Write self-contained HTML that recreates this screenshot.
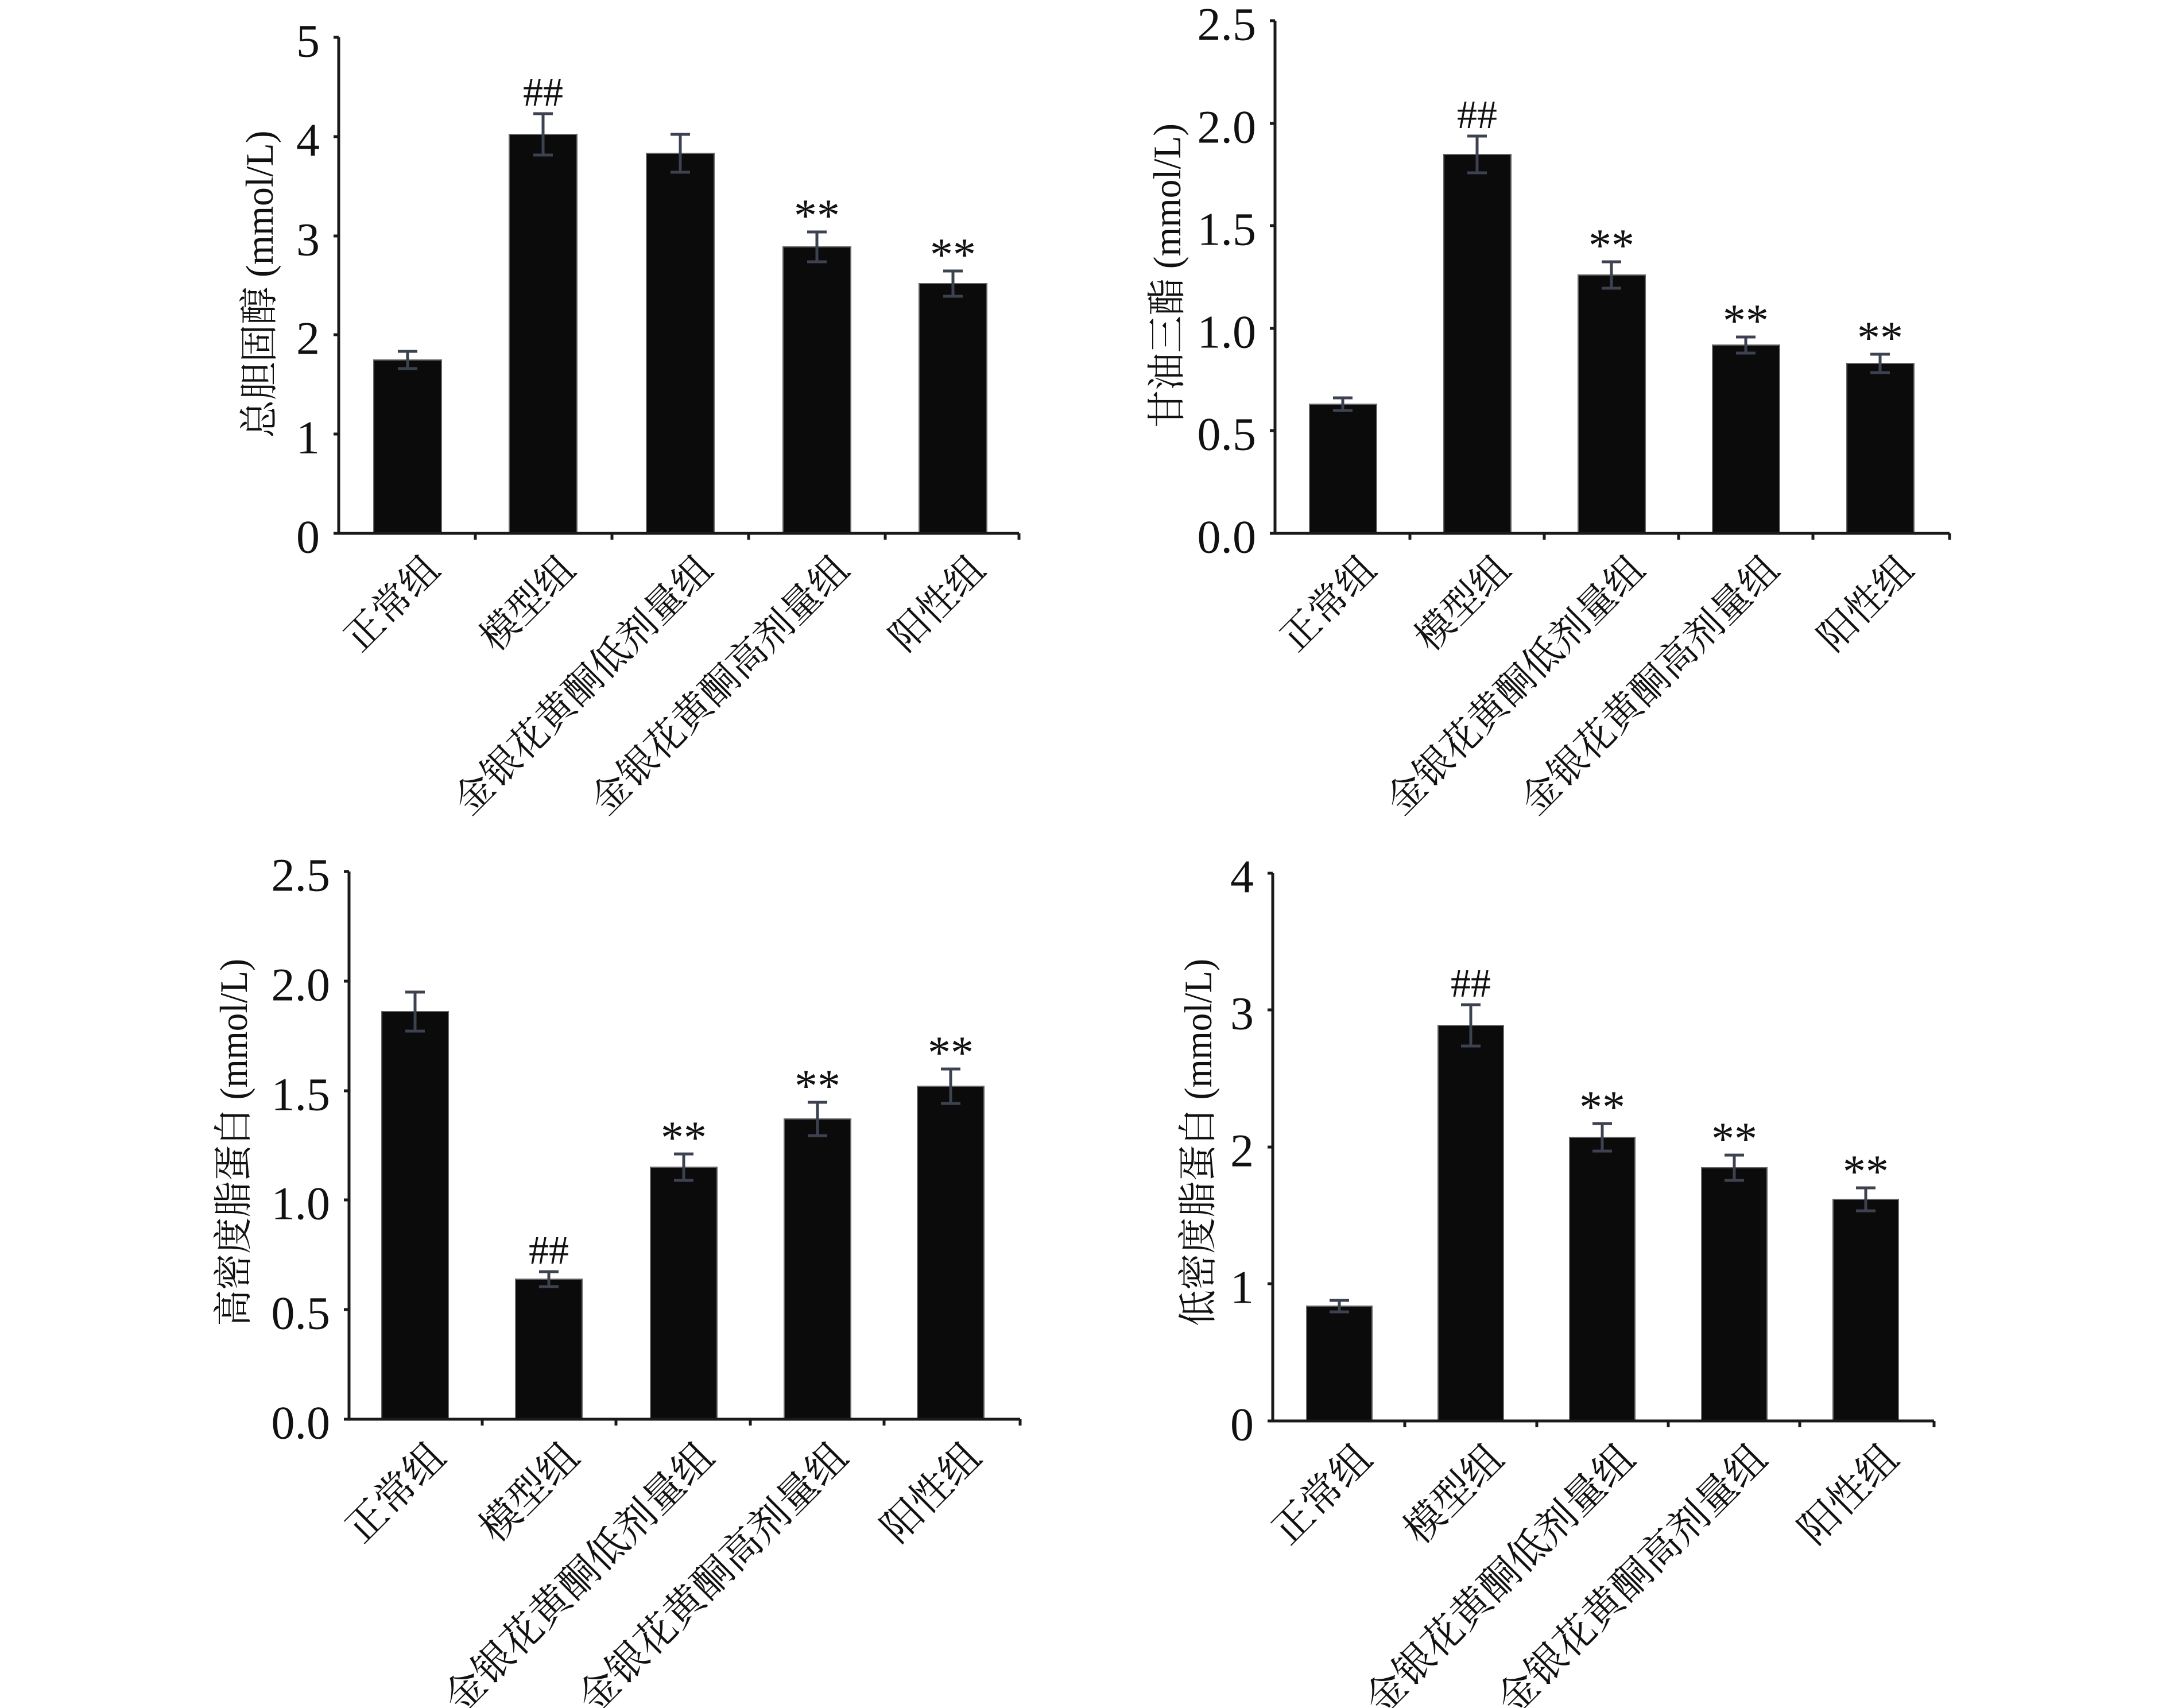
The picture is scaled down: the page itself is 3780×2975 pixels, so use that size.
<!DOCTYPE html>
<html><head><meta charset="utf-8"><style>
html,body{margin:0;padding:0;background:#fff}
svg{display:block}
.t{font-family:"Liberation Serif","Noto Serif CJK SC",serif;fill:#111}
.c{font-family:"Liberation Serif","Noto Serif CJK SC","Noto Sans CJK SC",serif;fill:#111;font-size:67px}
.c2{font-size:70px}
.tk{font-size:82px;text-anchor:end;dominant-baseline:central}
.bar{fill:#0b0b0b;stroke:#666;stroke-width:2}
.ax{stroke:#1a1a1a;stroke-width:5;fill:none}
.eb{stroke:#3c4250;stroke-width:5;fill:none}
.st{font-size:80px;text-anchor:middle}
.hs{font-size:70px;text-anchor:middle}
.yl{font-size:68px;text-anchor:middle}
</style></head><body>
<svg width="3780" height="2975" viewBox="0 0 3780 2975" xmlns="http://www.w3.org/2000/svg">
<rect width="3780" height="2975" fill="#fff"/>

<!-- Panel 1 -->
<g>
<rect class="bar" x="651" y="627" width="118" height="302"/>
<rect class="bar" x="887" y="234" width="118" height="695"/>
<rect class="bar" x="1126" y="267" width="118" height="662"/>
<rect class="bar" x="1364" y="430" width="118" height="499"/>
<rect class="bar" x="1601" y="494" width="118" height="435"/>
<path class="eb" d="M710 612V642M693 612H727M693 642H727
M946 198V270M929 198H963M929 270H963
M1185 234V300M1168 234H1202M1168 300H1202
M1423 404V456M1406 404H1440M1406 456H1440
M1660 472V516M1643 472H1677M1643 516H1677"/>
<path class="ax" d="M590 65V929H1775M581 929H590M581 756H590M581 583H590M581 411H590M581 238H590M581 65H590M828 929V940M1066 929V940M1304 929V940M1542 929V940M1775 929V940"/>
<g class="t tk"><text x="557" y="935">0</text><text x="557" y="762">1</text><text x="557" y="589">2</text><text x="557" y="417">3</text><text x="557" y="244">4</text><text x="557" y="71">5</text></g>
<text class="t hs" x="946" y="184">##</text>
<text class="t st" x="1423" y="402">**</text>
<text class="t st" x="1660" y="470">**</text>
<text class="t yl" transform="translate(475,495) rotate(-90)" textLength="535" lengthAdjust="spacingAndGlyphs">总胆固醇 (mmol/L)</text>
<g class="c" text-anchor="end">
<text transform="translate(770,996) rotate(-45)">正常组</text>
<text transform="translate(1006,996) rotate(-45)">模型组</text>
<text transform="translate(1245,996) rotate(-45)">金银花黄酮低剂量组</text>
<text transform="translate(1483,996) rotate(-45)">金银花黄酮高剂量组</text>
<text transform="translate(1720,996) rotate(-45)">阳性组</text>
</g>
</g>

<!-- Panel 2 -->
<g>
<rect class="bar" x="2281" y="704" width="117" height="225"/>
<rect class="bar" x="2515" y="269" width="117" height="660"/>
<rect class="bar" x="2749" y="479" width="117" height="450"/>
<rect class="bar" x="2983" y="601" width="117" height="328"/>
<rect class="bar" x="3217" y="633" width="117" height="296"/>
<path class="eb" d="M2339 693V715M2322 693H2356M2322 715H2356
M2573 237V301M2556 237H2590M2556 301H2590
M2807 456V502M2790 456H2824M2790 502H2824
M3041 587V615M3024 587H3058M3024 615H3058
M3275 617V649M3258 617H3292M3258 649H3292"/>
<path class="ax" d="M2221 36V929H3396M2212 929H2221M2212 750H2221M2212 572H2221M2212 393H2221M2212 215H2221M2212 36H2221M2456 929V940M2690 929V940M2924 929V940M3158 929V940M3396 929V940"/>
<g class="t tk"><text x="2188" y="935">0.0</text><text x="2188" y="756">0.5</text><text x="2188" y="578">1.0</text><text x="2188" y="399">1.5</text><text x="2188" y="221">2.0</text><text x="2188" y="42">2.5</text></g>
<text class="t hs" x="2573" y="223">##</text>
<text class="t st" x="2807" y="454">**</text>
<text class="t st" x="3041" y="585">**</text>
<text class="t st" x="3275" y="615">**</text>
<text class="t yl" transform="translate(2056,480) rotate(-90)" textLength="530" lengthAdjust="spacingAndGlyphs">甘油三酯 (mmol/L)</text>
<g class="c" text-anchor="end">
<text transform="translate(2401,996) rotate(-45)">正常组</text>
<text transform="translate(2635,996) rotate(-45)">模型组</text>
<text transform="translate(2869,996) rotate(-45)">金银花黄酮低剂量组</text>
<text transform="translate(3103,996) rotate(-45)">金银花黄酮高剂量组</text>
<text transform="translate(3337,996) rotate(-45)">阳性组</text>
</g>
</g>

<!-- Panel 3 -->
<g>
<rect class="bar" x="665" y="1762" width="116" height="710"/>
<rect class="bar" x="898" y="2228" width="116" height="244"/>
<rect class="bar" x="1133" y="2033" width="116" height="439"/>
<rect class="bar" x="1366" y="1949" width="116" height="523"/>
<rect class="bar" x="1598" y="1892" width="116" height="580"/>
<path class="eb" d="M723 1728V1796M706 1728H740M706 1796H740
M956 2215V2241M939 2215H973M939 2241H973
M1191 2010V2056M1174 2010H1208M1174 2056H1208
M1424 1920V1978M1407 1920H1441M1407 1978H1441
M1656 1862V1922M1639 1862H1673M1639 1922H1673"/>
<path class="ax" d="M608 1518V2472H1777M599 2472H608M599 2281H608M599 2090H608M599 1900H608M599 1709H608M599 1518H608M840 2472V2483M1073 2472V2483M1307 2472V2483M1540 2472V2483M1777 2472V2483"/>
<g class="t tk"><text x="575" y="2478">0.0</text><text x="575" y="2287">0.5</text><text x="575" y="2096">1.0</text><text x="575" y="1906">1.5</text><text x="575" y="1715">2.0</text><text x="575" y="1524">2.5</text></g>
<text class="t hs" x="956" y="2201">##</text>
<text class="t st" x="1191" y="2008">**</text>
<text class="t st" x="1424" y="1918">**</text>
<text class="t st" x="1656" y="1860">**</text>
<text class="t yl" transform="translate(430,1990) rotate(-90)" textLength="640" lengthAdjust="spacingAndGlyphs">高密度脂蛋白 (mmol/L)</text>
<g class="c c2" text-anchor="end">
<text transform="translate(780,2542) rotate(-45)">正常组</text>
<text transform="translate(1013,2542) rotate(-45)">模型组</text>
<text transform="translate(1248,2542) rotate(-45)">金银花黄酮低剂量组</text>
<text transform="translate(1481,2542) rotate(-45)">金银花黄酮高剂量组</text>
<text transform="translate(1713,2542) rotate(-45)">阳性组</text>
</g>
</g>

<!-- Panel 4 -->
<g>
<rect class="bar" x="2276" y="2275" width="114" height="200"/>
<rect class="bar" x="2505" y="1786" width="114" height="689"/>
<rect class="bar" x="2734" y="1981" width="114" height="494"/>
<rect class="bar" x="2964" y="2034" width="114" height="441"/>
<rect class="bar" x="3193" y="2089" width="114" height="386"/>
<path class="eb" d="M2333 2265V2285M2316 2265H2350M2316 2285H2350
M2562 1750V1822M2545 1750H2579M2545 1822H2579
M2791 1957V2005M2774 1957H2808M2774 2005H2808
M3021 2012V2056M3004 2012H3038M3004 2056H3038
M3250 2069V2109M3233 2069H3267M3233 2109H3267"/>
<path class="ax" d="M2217 1521V2475H3369M2208 2475H2217M2208 2236H2217M2208 1998H2217M2208 1759H2217M2208 1521H2217M2447 2475V2486M2677 2475V2486M2906 2475V2486M3135 2475V2486M3369 2475V2486"/>
<g class="t tk"><text x="2184" y="2481">0</text><text x="2184" y="2242">1</text><text x="2184" y="2004">2</text><text x="2184" y="1765">3</text><text x="2184" y="1527">4</text></g>
<text class="t hs" x="2562" y="1736">##</text>
<text class="t st" x="2791" y="1955">**</text>
<text class="t st" x="3021" y="2010">**</text>
<text class="t st" x="3250" y="2067">**</text>
<text class="t yl" transform="translate(2110,1990) rotate(-90)" textLength="640" lengthAdjust="spacingAndGlyphs">低密度脂蛋白 (mmol/L)</text>
<g class="c c2" text-anchor="end">
<text transform="translate(2394,2545) rotate(-45)">正常组</text>
<text transform="translate(2623,2545) rotate(-45)">模型组</text>
<text transform="translate(2852,2545) rotate(-45)">金银花黄酮低剂量组</text>
<text transform="translate(3082,2545) rotate(-45)">金银花黄酮高剂量组</text>
<text transform="translate(3311,2545) rotate(-45)">阳性组</text>
</g>
</g>
</svg>
</body></html>
